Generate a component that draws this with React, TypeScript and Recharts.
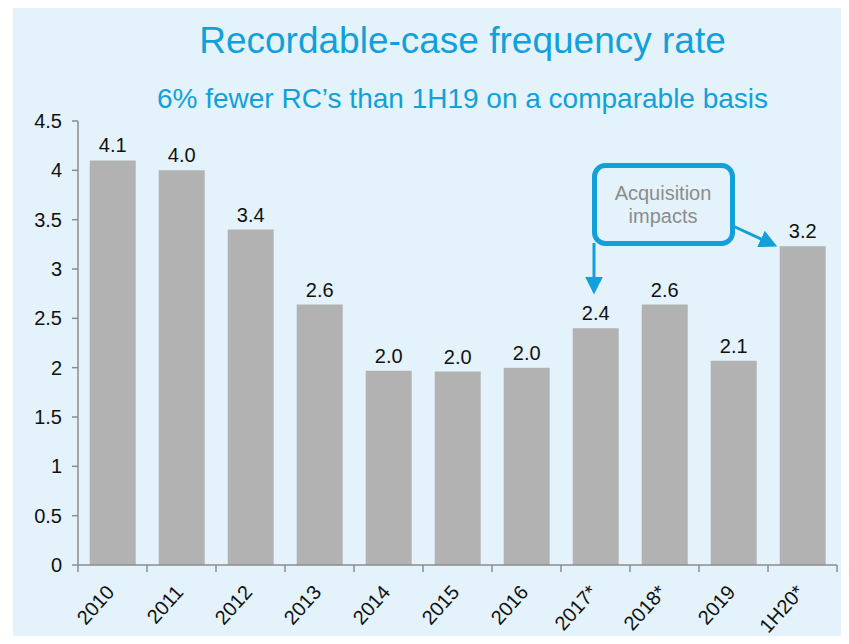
import React from 'react'
import { BarChart, Bar, XAxis, YAxis, LabelList } from 'recharts'

const categories = ['2010', '2011', '2012', '2013', '2014', '2015', '2016', '2017*', '2018*', '2019', '1H20*']
const rates = [4.1, 4.0, 3.4, 2.64, 1.97, 1.96, 2.0, 2.4, 2.64, 2.07, 3.23]
const yTicks = [0, 0.5, 1, 1.5, 2, 2.5, 3, 3.5, 4, 4.5]

const BLUE = '#12A0DA'
const AXIS = '#8C8C8C'
const FONT = "'Liberation Sans', Arial, sans-serif"

const chartData = categories.map((c, i) => ({ name: c, rate: rates[i] }))

// Excel-style x ticks: tick marks sit on category boundaries, labels rotated
const XTick = (props: any) => {
  const { x, y, payload, index } = props
  const half = 34.5
  const last = index === categories.length - 1
  return (
    <g>
      <line x1={x - half} y1={y - 8} x2={x - half} y2={y - 1} stroke={AXIS} strokeWidth={1.5} />
      {last && <line x1={x + half} y1={y - 8} x2={x + half} y2={y - 1} stroke={AXIS} strokeWidth={1.5} />}
      <text
        x={0}
        y={0}
        transform={`translate(${x + 3},${y + 20}) rotate(-48)`}
        textAnchor="end"
        fontSize={20}
        fontFamily={FONT}
        fill="#111"
      >
        {payload.value}
      </text>
    </g>
  )
}

export default function App() {
  return (
    <div style={{ position: 'relative', margin: -8, width: 849, height: 644, background: '#fff', overflow: 'hidden' }}>
      <div style={{ position: 'absolute', left: 13, top: 5, right: 0, bottom: 0, background: '#E4F3FB' }} />
      <div style={{ position: 'absolute', left: 0, top: 19, width: 925, textAlign: 'center', color: BLUE, fontFamily: FONT, fontSize: 37, lineHeight: '44px' }}>
        Recordable-case frequency rate
      </div>
      <div style={{ position: 'absolute', left: 0, top: 82, width: 925, textAlign: 'center', color: BLUE, fontFamily: FONT, fontSize: 28, lineHeight: '34px' }}>
        6% fewer RC’s than 1H19 on a comparable basis
      </div>
      <div style={{ position: 'absolute', left: 0, top: 0 }}>
        <BarChart width={849} height={644} data={chartData} margin={{ top: 121, right: 12, bottom: 0, left: 0 }} barCategoryGap="17%">
          <YAxis
            width={78}
            domain={[0, 4.5]}
            ticks={yTicks}
            interval={0}
            stroke={AXIS}
            strokeWidth={1.5}
            tickSize={6}
            tickMargin={10}
            tick={{ fill: '#111', fontSize: 20, fontFamily: FONT }}
          />
          <XAxis
            dataKey="name"
            height={79}
            interval={0}
            stroke={AXIS}
            strokeWidth={1.5}
            tickLine={false}
            tick={<XTick />}
          />
          <Bar dataKey="rate" fill="#B2B2B2" isAnimationActive={false}>
            <LabelList
              dataKey="rate"
              position="top"
              offset={8}
              formatter={(v: any) => Number(v).toFixed(1)}
              style={{ fill: '#111', fontSize: 20, fontFamily: FONT }}
            />
          </Bar>
        </BarChart>
      </div>
      <svg width={849} height={644} style={{ position: 'absolute', left: 0, top: 0, pointerEvents: 'none' }}>
        <defs>
          <marker id="arr" viewBox="0 0 10 10" refX="8" refY="5" markerWidth="6" markerHeight="6" orient="auto" markerUnits="strokeWidth">
            <path d="M0,0 L10,5 L0,10 z" fill={BLUE} />
          </marker>
        </defs>
        <line x1={594} y1={243} x2={594} y2={291} stroke={BLUE} strokeWidth={3} markerEnd="url(#arr)" />
        <line x1={733} y1={226} x2={774} y2={245} stroke={BLUE} strokeWidth={3} markerEnd="url(#arr)" />
        <rect x={594.5} y={165.5} width={138} height={78} rx={11} fill="#E4F3FB" stroke={BLUE} strokeWidth={5} />
        <text x={663} y={200} textAnchor="middle" fontSize={20} fontFamily={FONT} fill="#8C8C8C">Acquisition</text>
        <text x={663} y={223} textAnchor="middle" fontSize={20} fontFamily={FONT} fill="#8C8C8C">impacts</text>
      </svg>
    </div>
  )
}
